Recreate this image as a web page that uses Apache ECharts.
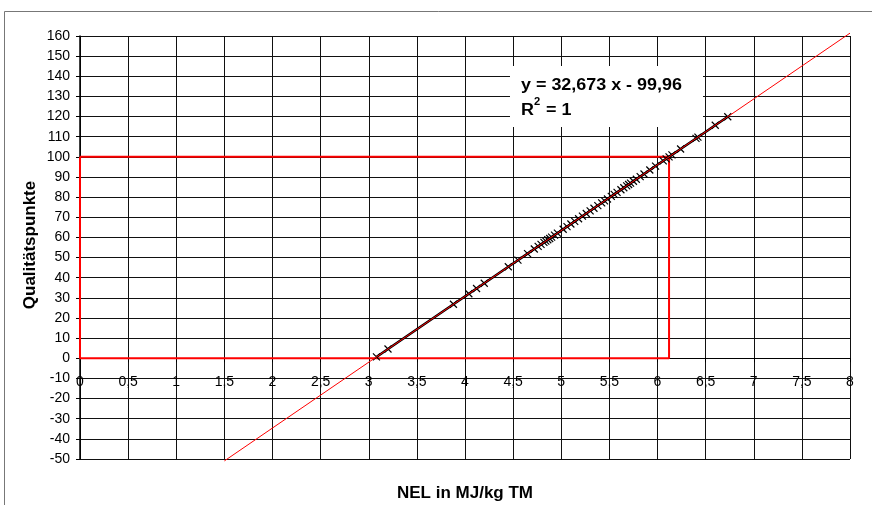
<!DOCTYPE html>
<html>
<head>
<meta charset="utf-8">
<script src="https://cdn.jsdelivr.net/npm/echarts@6/dist/echarts.min.js"></script>
<style>html,body{margin:0;padding:0;background:#fff}#c{width:872px;height:505px}</style>
</head>
<body>
<div id="c"></div>
<script>
// Measured points (NEL in MJ/kg TM, Qualitätspunkte)
var nelValues = [3.08,3.20,3.88,4.04,4.12,4.20,4.45,4.55,4.65,4.72,4.76,4.79,4.82,4.84,4.86,4.88,4.90,4.93,4.96,5.02,5.06,5.10,5.14,5.18,5.22,5.26,5.30,5.34,5.38,5.42,5.45,5.48,5.52,5.55,5.58,5.62,5.65,5.68,5.70,5.72,5.75,5.78,5.82,5.86,5.92,5.98,6.06,6.09,6.12,6.15,6.24,6.40,6.42,6.60,6.73];
var qpValues = [0.67,4.59,26.81,32.04,34.65,37.27,45.44,48.70,51.97,54.26,55.56,56.54,57.52,58.18,58.83,59.48,60.14,61.12,62.10,64.06,65.37,66.67,67.98,69.29,70.59,71.90,73.21,74.51,75.82,77.13,78.11,79.09,80.39,81.38,82.36,83.66,84.64,85.62,86.28,86.93,87.91,88.89,90.20,91.50,93.46,95.43,98.04,99.02,100.00,100.98,103.92,109.15,109.80,115.68,119.93];
// Trendline end points (forecast range)
var trendX = [1.5, 8];
var trendY = [-50.95, 161.42];
// Red reference rectangle (0..6.12, 0..100)
var boxX = [0, 6.12, 6.12, 0, 0];
var boxY = [100, 100, 0, 0, 100];
var equationText = 'y = 32,673 x - 99,96';
var xTicks = {min: 0, max: 8, interval: 0.5};
var yTicks = {min: -50, max: 160, interval: 10};

function zip(a, b) { return a.map(function (v, i) { return [v, b[i]]; }); }

var gridTop = 36, gridBottom = 46, H = 505;
var gridH = H - gridTop - gridBottom;
// place x axis at y = 0
var xAxisOffset = -gridH * (0 - yTicks.min) / (yTicks.max - yTicks.min);

var chart = echarts.init(document.getElementById('c'), null, {renderer: 'canvas'});
var font = 'Liberation Sans, Arial, sans-serif';
chart.setOption({
  animation: false,
  grid: {left: 80, right: 22, top: gridTop, bottom: gridBottom, containLabel: false},
  xAxis: {
    type: 'value', min: xTicks.min, max: xTicks.max, interval: xTicks.interval,
    position: 'bottom', offset: xAxisOffset,
    axisLine: {show: true, onZero: false, lineStyle: {color: '#000', width: 1}},
    axisTick: {show: true, length: 4, lineStyle: {color: '#000'}},
    axisLabel: {color: '#000', fontSize: 14, fontFamily: font, margin: 17,
      formatter: function (v) { return String(v).replace('.', ','); }},
    splitLine: {show: true, lineStyle: {color: '#111', width: 1}}
  },
  yAxis: {
    type: 'value', min: yTicks.min, max: yTicks.max, interval: yTicks.interval,
    axisLine: {show: true, onZero: false, lineStyle: {color: '#000', width: 1.5}},
    axisTick: {show: true, length: 4, lineStyle: {color: '#000'}},
    axisLabel: {color: '#000', fontSize: 14, fontFamily: font, margin: 10},
    splitLine: {show: true, lineStyle: {color: '#111', width: 1}}
  },
  series: [
    {
      type: 'line', data: zip(boxX, boxY), symbol: 'none', z: 3,
      lineStyle: {color: '#ff0000', width: 2}, clip: false
    },
    {
      type: 'line', data: zip(nelValues, qpValues), z: 4,
      symbol: 'path://M0,0L10,10M10,0L0,10', symbolSize: 7,
      itemStyle: {color: 'none', borderColor: '#000', borderWidth: 1.2},
      lineStyle: {color: '#000', width: 2.5}
    },
    {
      type: 'line', data: zip(trendX, trendY), symbol: 'none', z: 5, clip: false,
      lineStyle: {color: '#ff0000', width: 1}
    }
  ],
  graphic: [
    {type: 'rect', z: 100, shape: {x: 4.5, y: 11.5, width: 880, height: 500},
      style: {fill: 'none', stroke: '#777', lineWidth: 1}},
    {type: 'rect', z: 100, shape: {x: 510, y: 66, width: 193, height: 61},
      style: {fill: '#fff', stroke: 'none'}},
    {type: 'text', z: 101, x: 521, y: 86, scaleX: 1.12,
      style: {text: equationText, font: 'bold 16px ' + font, fill: '#000', verticalAlign: 'middle'}},
    {type: 'text', z: 101, x: 521, y: 111, scaleX: 1.12,
      style: {text: 'R', font: 'bold 16px ' + font, fill: '#000', verticalAlign: 'middle'}},
    {type: 'text', z: 101, x: 534, y: 102, scaleX: 1.12,
      style: {text: '2', font: 'bold 10px ' + font, fill: '#000', verticalAlign: 'middle'}},
    {type: 'text', z: 101, x: 541, y: 111, scaleX: 1.12,
      style: {text: ' = 1', font: 'bold 16px ' + font, fill: '#000', verticalAlign: 'middle'}},
    {type: 'text', z: 101, x: 30, y: 245, rotation: Math.PI / 2,
      style: {text: 'Qualitätspunkte', font: 'bold 17px ' + font, fill: '#000', align: 'center', verticalAlign: 'middle'}},
    {type: 'text', z: 101, x: 465, y: 493,
      style: {text: 'NEL in MJ/kg TM', font: 'bold 17px ' + font, fill: '#000', align: 'center', verticalAlign: 'middle'}}
  ]
});
</script>
</body>
</html>
